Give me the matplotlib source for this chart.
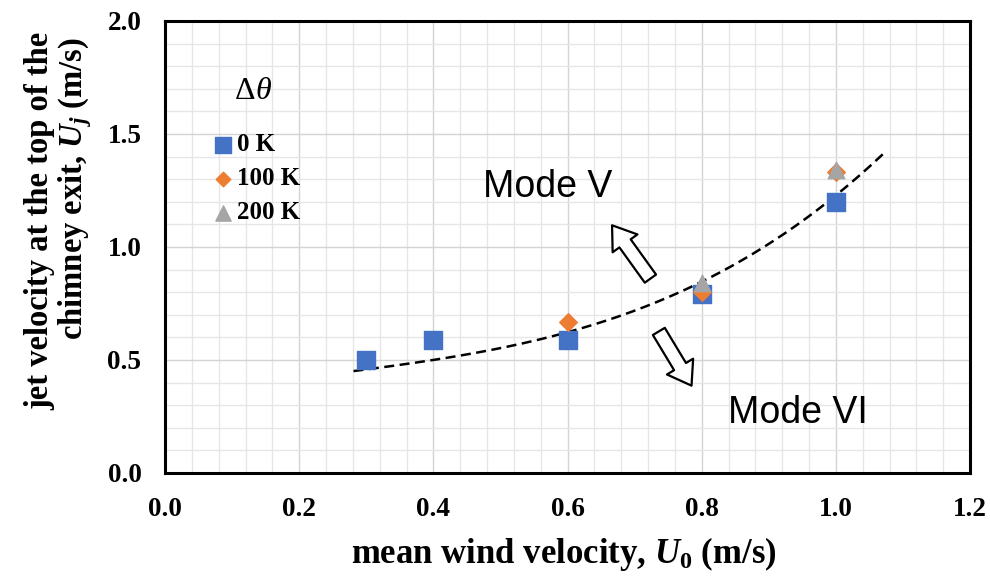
import matplotlib
matplotlib.use("Agg")
import matplotlib.pyplot as plt
import numpy as np
from matplotlib.ticker import MultipleLocator

# data
u0_0k = [0.3, 0.4, 0.6, 0.8, 1.0]
uj_0k = [0.50, 0.59, 0.59, 0.79, 1.20]
u0_100k = [0.6, 0.8, 1.0]
uj_100k = [0.67, 0.80, 1.33]
u0_200k = [0.8, 1.0]
uj_200k = [0.84, 1.34]
series_labels = ["0 K", "100 K", "200 K"]

# points on the dashed trend line
trend_x = [0.281, 0.30, 0.40, 0.60, 0.709, 0.80, 0.893, 1.00, 1.075]
trend_y = [0.447, 0.46, 0.504, 0.625, 0.725, 0.84, 1.00, 1.243, 1.416]

plt.rcParams["font.family"] = ["Liberation Serif", "DejaVu Serif"]
plt.rcParams["font.weight"] = "bold"
plt.rcParams["mathtext.fontset"] = "custom"
plt.rcParams["mathtext.rm"] = "Liberation Serif:bold"
plt.rcParams["mathtext.it"] = "Liberation Serif:italic:bold"
plt.rcParams["mathtext.bf"] = "Liberation Serif:bold"

fig = plt.figure(figsize=(9.9, 5.8), dpi=100)
ax = fig.add_axes([0.1667, 0.1845, 0.8131, 0.7793])

ax.set_xlim(0, 1.2)
ax.set_ylim(0, 2.0)
ax.xaxis.set_major_locator(MultipleLocator(0.2))
ax.xaxis.set_minor_locator(MultipleLocator(0.04))
ax.yaxis.set_major_locator(MultipleLocator(0.5))
ax.yaxis.set_minor_locator(MultipleLocator(0.1))
ax.grid(which="major", color="#d4d4d4", lw=1.0)
ax.grid(which="minor", color="#e6e6e6", lw=1.0)
ax.set_axisbelow(True)
ax.tick_params(which="both", length=0, labelsize=19.5, pad=17)
ax.xaxis.set_major_formatter(plt.FormatStrFormatter("%.1f"))
ax.yaxis.set_major_formatter(plt.FormatStrFormatter("%.1f"))
for sp in ax.spines.values():
    sp.set_color("black")
    sp.set_linewidth(2.2)

# smooth trend line through the read points (cubic fit, like a spreadsheet trendline)
coeffs = np.polyfit(trend_x, trend_y, 3)
xs = np.linspace(trend_x[0], trend_x[-1], 200)
ax.plot(xs, np.polyval(coeffs, xs), ls=(0, (4, 2.2)), color="black", lw=1.8, zorder=2)

h0 = ax.scatter(u0_0k, uj_0k, marker="s", s=150, color="#4472C4", zorder=3, label=series_labels[0])
h1 = ax.scatter(u0_100k, uj_100k, marker="D", s=80, color="#ED7D31", zorder=4, label=series_labels[1])
h2 = ax.scatter(u0_200k, uj_200k, marker="^", s=140, color="#A5A5A5", zorder=5, label=series_labels[2])

leg = ax.legend(handles=[h0, h1, h2], loc="upper left",
                bbox_to_anchor=(0.058, 0.752), frameon=False, fontsize=18,
                handlelength=0.9, handletextpad=0.1, labelspacing=0.44,
                borderaxespad=0.0, borderpad=0.0, scatterpoints=1)
for hnd, size in zip(leg.legend_handles, [140, 55, 120]):
    hnd.set_sizes([size])

# legend title: upright delta, italic theta
ax.text(0.135, 1.69, "Δ", fontsize=23, fontweight="normal", ha="right", va="center")
ax.text(0.135, 1.69, "θ", fontsize=23, fontweight="normal", style="italic",
        ha="left", va="center")

arrow_style = dict(arrowstyle="simple,head_length=0.8,head_width=1.1,tail_width=0.5",
                   fc="white", ec="black", lw=1.6, mutation_scale=20)
ax.annotate("", xy=(0.664, 1.106), xytext=(0.726, 0.85), arrowprops=arrow_style)
ax.annotate("", xy=(0.787, 0.376), xytext=(0.734, 0.637), arrowprops=arrow_style)

ax.text(0.570, 1.265, "Mode V", fontsize=27, fontweight="normal",
        family="Liberation Sans", ha="center", va="center")
ax.text(0.943, 0.265, "Mode VI", fontsize=27, fontweight="normal",
        family="Liberation Sans", ha="center", va="center")

fig.text(564 / 990, 1 - 554 / 580, r"mean wind velocity, $U_{\mathit{0}}$ (m/s)",
         fontsize=25, ha="center", va="center")
fig.text(40 / 990, 1 - 221 / 580, "jet velocity at the top of the",
         fontsize=23.5, rotation=90, ha="center", va="center")
fig.text(75 / 990, 1 - 188 / 580, r"chimney exit, $U_j$ (m/s)",
         fontsize=23.5, rotation=90, ha="center", va="center")

fig.savefig("out.png", dpi=100)
